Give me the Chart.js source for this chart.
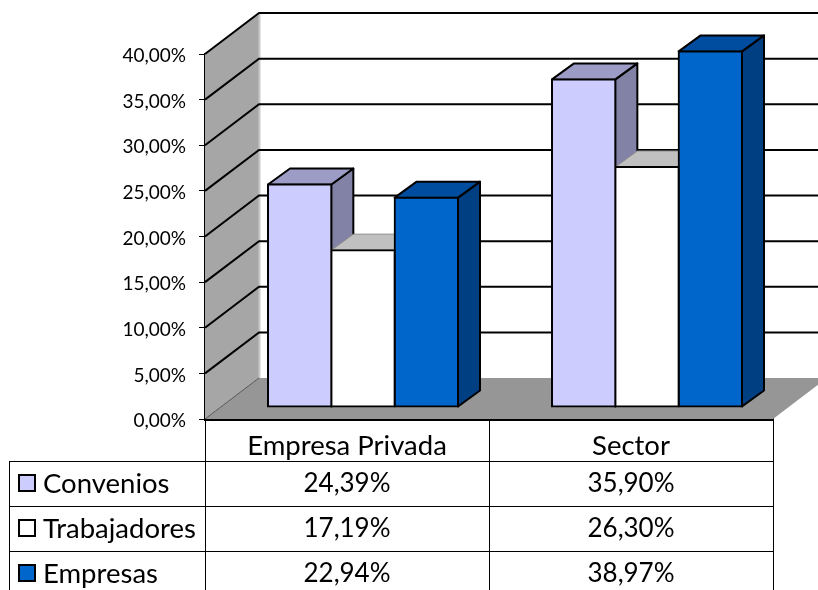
<!DOCTYPE html>
<html>
<head>
<meta charset="utf-8">
<title>Convenios</title>
<script src="https://cdn.jsdelivr.net/npm/chart.js@4/dist/chart.umd.js"></script>
<style>
  html, body { margin: 0; padding: 0; background: #fff; overflow: hidden; }
  #viz { display: block; }
</style>
</head>
<body>
<canvas id="viz" width="818" height="590"></canvas>
<script>
// data
const categories = ['Empresa Privada', 'Sector'];
const seriesNames = ['Convenios', 'Trabajadores', 'Empresas'];
const convenios = [24.39, 35.90];
const trabajadores = [17.19, 26.30];
const empresas = [22.94, 38.97];

// colours per series: front, top, side
const frontColors = ['#CCCCFF', '#FFFFFF', '#0066CC'];
const topColors = ['#9C9CC6', '#C0C0C0', '#004C9E'];
const sideColors = ['#8282A6', '#A6A6A6', '#003F82'];

const FONT = 'Lato, sans-serif';
const pct = v => v.toFixed(2).replace('.', ',') + '%';

// 3d offsets
const WALL = { x: 54, y: -41 };
const BAR_SHIFT = { x: 16, y: -12 };
const BAR_DEPTH = { x: 22, y: -16 };

function poly(ctx, pts, fill, stroke, lw) {
  ctx.beginPath();
  pts.forEach((p, i) => i ? ctx.lineTo(p[0], p[1]) : ctx.moveTo(p[0], p[1]));
  ctx.closePath();
  ctx.fillStyle = fill;
  ctx.fill();
  if (stroke) {
    ctx.strokeStyle = stroke;
    ctx.lineWidth = lw;
    ctx.lineJoin = 'round';
    ctx.stroke();
  }
}

// side wall, floor and back gridlines
const walls = {
  id: 'walls',
  beforeDatasetsDraw(chart) {
    const { ctx, chartArea: a, scales: { y } } = chart;
    const bx = a.left + WALL.x;
    const rightEdge = a.right + WALL.x;
    const y0 = y.getPixelForValue(0);
    const yTop = y.getPixelForValue(40);
    ctx.save();
    poly(ctx, [[a.left, yTop], [bx, yTop + WALL.y], [bx, y0 + WALL.y], [a.left, y0]], '#A6A6A6');
    poly(ctx, [[a.left, y0], [bx, y0 + WALL.y], [rightEdge, y0 + WALL.y], [a.right, y0]], '#969696');
    // light edge where side wall meets back wall
    ctx.strokeStyle = '#C8C8C8';
    ctx.lineWidth = 2;
    ctx.beginPath();
    ctx.moveTo(bx + 0.5, yTop + WALL.y);
    ctx.lineTo(bx + 0.5, y0 + WALL.y);
    ctx.stroke();
    y.ticks.forEach(t => {
      const py = y.getPixelForValue(t.value);
      ctx.beginPath();
      ctx.moveTo(a.left, py);
      ctx.lineTo(bx, py + WALL.y);
      if (t.value > 0) ctx.lineTo(rightEdge, py + WALL.y);
      ctx.strokeStyle = t.value > 0 ? '#000' : '#555';
      ctx.lineWidth = t.value > 0 ? 2 : 1;
      ctx.stroke();
    });
    ctx.restore();
  }
};

// bar fronts are drawn by chart.js, shifted back onto the floor; tops and sides go in first, left to right
const bars3d = {
  id: 'bars3d',
  beforeDatasetsDraw(chart) {
    const { ctx } = chart;
    ctx.save();
    ctx.translate(BAR_SHIFT.x, BAR_SHIFT.y);
    seriesNames.forEach((name, i) => {
      chart.getDatasetMeta(i).data.forEach(b => {
        const l = b.x - b.width / 2, r = b.x + b.width / 2;
        const d = BAR_DEPTH;
        const edge = i === 1 ? '#8C8C8C' : '#000';
        const lw = i === 1 ? 1 : 2;
        poly(ctx, [[r, b.y], [r + d.x, b.y + d.y], [r + d.x, b.base + d.y], [r, b.base]], sideColors[i], edge, lw);
        poly(ctx, [[l, b.y], [l + d.x, b.y + d.y], [r + d.x, b.y + d.y], [r, b.y]], topColors[i], edge, lw);
      });
    });
    ctx.restore();
  },
  beforeDatasetDraw(chart) {
    chart.ctx.save();
    chart.ctx.translate(BAR_SHIFT.x, BAR_SHIFT.y);
  },
  afterDatasetDraw(chart) {
    chart.ctx.restore();
  }
};

// data table under the plot
const dataTable = {
  id: 'dataTable',
  afterDraw(chart) {
    const { ctx, chartArea: a, scales: { x } } = chart;
    const rows = [convenios, trabajadores, empresas];
    const tableLeft = 9, rowTop = 461.5, rowH = 45, bottom = 590;
    const mid = (x.getPixelForTick(0) + x.getPixelForTick(1)) / 2;
    ctx.save();
    ctx.strokeStyle = '#000';
    ctx.lineWidth = 1;
    ctx.beginPath();
    [a.left, mid, a.right].forEach(px => {
      ctx.moveTo(Math.round(px) + 0.5, a.bottom);
      ctx.lineTo(Math.round(px) + 0.5, bottom);
    });
    ctx.moveTo(tableLeft + 0.5, rowTop);
    ctx.lineTo(tableLeft + 0.5, bottom);
    rows.forEach((r, i) => {
      ctx.moveTo(tableLeft, rowTop + i * rowH);
      ctx.lineTo(a.right, rowTop + i * rowH);
    });
    ctx.stroke();

    ctx.textBaseline = 'middle';
    rows.forEach((r, i) => {
      const cy = rowTop + i * rowH + rowH / 2;
      ctx.fillStyle = frontColors[i];
      ctx.strokeStyle = '#000';
      ctx.lineWidth = 2;
      ctx.fillRect(19, cy - 9, 16, 16);
      ctx.strokeRect(19, cy - 9, 16, 16);
      ctx.fillStyle = '#000';
      ctx.font = '27.5px ' + FONT;
      ctx.textAlign = 'left';
      ctx.fillText(seriesNames[i], 43, cy);
      ctx.font = '26px ' + FONT;
      ctx.textAlign = 'center';
      r.forEach((v, c) => ctx.fillText(pct(v), x.getPixelForTick(c), cy));
    });
    ctx.restore();
  }
};

new Chart(document.getElementById('viz'), {
  type: 'bar',
  data: {
    labels: categories,
    datasets: [convenios, trabajadores, empresas].map((vals, i) => ({
      label: seriesNames[i],
      data: vals,
      backgroundColor: frontColors[i],
      borderColor: '#000',
      borderWidth: 2,
      borderSkipped: false,
      inflateAmount: 1,
      clip: false,
      barPercentage: 1,
      categoryPercentage: 0.669
    }))
  },
  options: {
    responsive: false,
    animation: false,
    layout: { padding: { top: 54, right: 45, left: 0, bottom: 0 } },
    plugins: { legend: { display: false }, tooltip: { enabled: false } },
    scales: {
      x: {
        afterFit: s => { s.height = 171; },
        grid: { display: false, drawTicks: false },
        border: { display: true, color: '#000', width: 3 },
        ticks: { padding: 11, color: '#000', font: { family: FONT, size: 27.5 } }
      },
      y: {
        min: 0,
        max: 40,
        afterFit: s => { s.width = 205; },
        grid: { drawOnChartArea: false, drawTicks: true, tickLength: 6, color: '#000' },
        border: { display: true, color: '#000', width: 2 },
        ticks: {
          stepSize: 5,
          padding: 13,
          labelOffset: 2,
          color: '#000',
          font: { family: FONT, size: 19 },
          callback: v => pct(v)
        }
      }
    }
  },
  plugins: [walls, bars3d, dataTable]
});
</script>
</body>
</html>
